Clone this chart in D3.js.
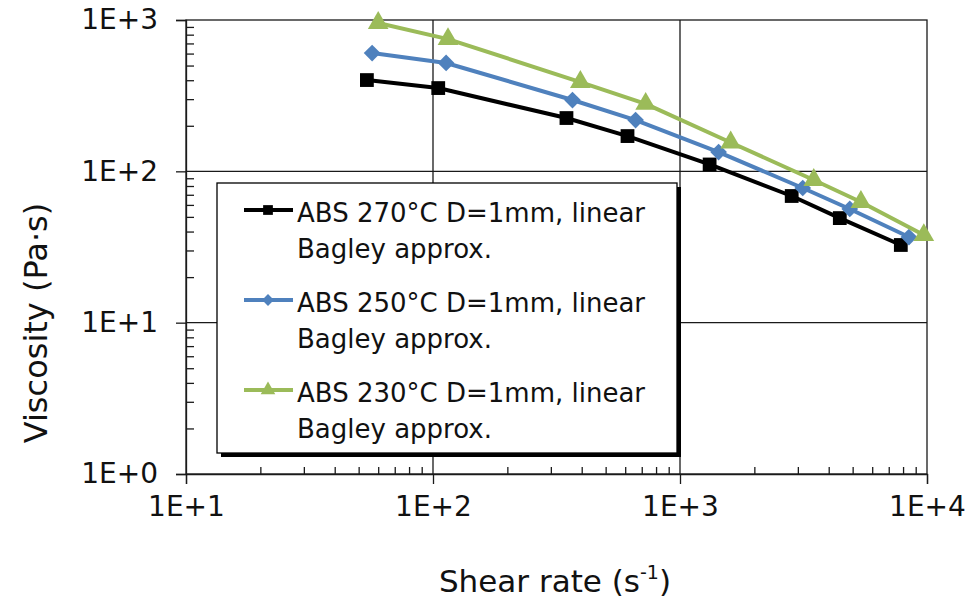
<!DOCTYPE html>
<html>
<head>
<meta charset="utf-8">
<script src="https://cdn.jsdelivr.net/npm/d3@7"></script>
<style>
  body { margin: 0; background: #fff; }
  svg { display: block; font-family: "DejaVu Sans", Verdana, sans-serif; }
</style>
</head>
<body>
<div id="chart"></div>
<script>
/* Series data: shear rate (1/s) and viscosity (Pa·s) */
const seriesNames = [
  "ABS 270°C D=1mm, linear",
  "ABS 250°C D=1mm, linear",
  "ABS 230°C D=1mm, linear"
];
const shear270 = [54, 105, 347, 613, 1318, 2833, 4436, 7834];
const visc270  = [401, 355, 225, 171, 111, 68.7, 49.1, 32.6];
const shear250 = [56.7, 113, 367, 661, 1433, 3140, 4868, 8450];
const visc250  = [605, 520, 296, 218, 134, 77.6, 56.4, 36.8];
const shear230 = [60, 115, 395, 726, 1604, 3480, 5400, 9710];
const visc230  = [955, 748, 389, 279, 155, 87.7, 62.7, 37.9];

const xTicks = [10, 100, 1000, 10000];
const yTicks = [1, 10, 100, 1000];
const tickLabels = ["1E+0", "1E+1", "1E+2", "1E+3", "1E+4"];

const width = 969, height = 603;
const margins = { top: 20, right: 42, bottom: 129, left: 186 };

const svg = d3.select("#chart")
  .append("svg")
  .attr("width", width)
  .attr("height", height);

/* Scales */
const x = d3.scaleLog()
  .domain([10, 10000])
  .range([margins.left, width - margins.right]);

const y = d3.scaleLog()
  .domain([1, 1000])
  .range([height - margins.bottom, margins.top]);

const label = v => tickLabels[Math.round(Math.log10(v))];

/* Minor tick values: 2..9 in each decade */
const minorX = [];
[10, 100, 1000].forEach(d => d3.range(2, 10).forEach(k => minorX.push(d * k)));
const minorY = [];
[1, 10, 100].forEach(d => d3.range(2, 10).forEach(k => minorY.push(d * k)));

/* Grid lines */
svg.append("g")
  .selectAll("line")
  .data(xTicks.slice(1, -1))
  .join("line")
    .attr("x1", d => x(d)).attr("x2", d => x(d))
    .attr("y1", y(1)).attr("y2", y(1000))
    .attr("stroke", "#1a1a1a").attr("stroke-width", 1.3);

svg.append("g")
  .selectAll("line")
  .data(yTicks.slice(1, -1))
  .join("line")
    .attr("x1", x(10)).attr("x2", x(10000))
    .attr("y1", d => y(d)).attr("y2", d => y(d))
    .attr("stroke", "#1a1a1a").attr("stroke-width", 1.3);

/* Plot frame */
svg.append("rect")
  .attr("x", x(10)).attr("y", y(1000))
  .attr("width", x(10000) - x(10))
  .attr("height", y(1) - y(1000))
  .attr("fill", "none")
  .attr("stroke", "#1a1a1a")
  .attr("stroke-width", 1.3);

/* X axis: major ticks outside, minor ticks inside */
svg.append("g")
  .attr("transform", `translate(0,${y(1)})`)
  .call(d3.axisBottom(x).tickValues(xTicks).tickFormat(label).tickSize(10).tickPadding(12));

svg.append("g")
  .attr("transform", `translate(0,${y(1)})`)
  .call(d3.axisBottom(x).tickValues(minorX).tickFormat("").tickSize(-7))
  .call(g => g.select(".domain").remove());

/* Y axis */
svg.append("g")
  .attr("transform", `translate(${x(10)},0)`)
  .call(d3.axisLeft(y).tickValues(yTicks).tickFormat(label).tickSize(10).tickPadding(18));

svg.append("g")
  .attr("transform", `translate(${x(10)},0)`)
  .call(d3.axisLeft(y).tickValues(minorY).tickFormat("").tickSize(-8))
  .call(g => g.select(".domain").remove());

svg.selectAll(".tick line").attr("stroke", "#1a1a1a").attr("stroke-width", 1.3);
svg.selectAll(".domain").attr("stroke", "#1a1a1a").attr("stroke-width", 1.3);
svg.selectAll(".tick text")
  .attr("font-size", "28px")
  .attr("font-family", "DejaVu Sans, sans-serif")
  .attr("fill", "#111");

/* Axis titles */
const xTitle = svg.append("text")
  .attr("x", 555)
  .attr("y", 592)
  .attr("text-anchor", "middle")
  .attr("font-size", "31px")
  .attr("fill", "#111");
xTitle.append("tspan").text("Shear rate (s");
xTitle.append("tspan").attr("font-size", "19px").attr("dy", -13).text("-1");
xTitle.append("tspan").attr("dy", 13).text(")");

svg.append("text")
  .attr("transform", "translate(47,323) rotate(-90)")
  .attr("text-anchor", "middle")
  .attr("font-size", "32px")
  .attr("fill", "#111")
  .text("Viscosity (Pa·s)");

/* Series (diamond = square turned 45 degrees) */
const series = [
  { name: seriesNames[0], xs: shear270, ys: visc270, color: "#000000", symbol: d3.symbolSquare, size: 190, rot: 0 },
  { name: seriesNames[1], xs: shear250, ys: visc250, color: "#4f81bd", symbol: d3.symbolSquare, size: 140, rot: 45 },
  { name: seriesNames[2], xs: shear230, ys: visc230, color: "#9bbb59", symbol: d3.symbolTriangle, size: 185, rot: 0 }
];

const line = d3.line()
  .x(d => x(d[0]))
  .y(d => y(d[1]));

series.forEach(s => {
  const pts = d3.zip(s.xs, s.ys);
  svg.append("path")
    .datum(pts)
    .attr("d", line)
    .attr("fill", "none")
    .attr("stroke", s.color)
    .attr("stroke-width", 4)
    .attr("stroke-linejoin", "round");

  svg.append("g")
    .selectAll("path")
    .data(pts)
    .join("path")
      .attr("transform", d => `translate(${x(d[0])},${y(d[1])}) rotate(${s.rot})`)
      .attr("d", d3.symbol().type(s.symbol).size(s.size))
      .attr("fill", s.color);
});

/* Legend */
const legend = svg.append("g").attr("transform", "translate(217,183)");
legend.append("rect")
  .attr("x", 4).attr("y", 4)
  .attr("width", 460).attr("height", 270)
  .attr("fill", "#000");
legend.append("rect")
  .attr("x", 0).attr("y", 0)
  .attr("width", 460).attr("height", 270)
  .attr("fill", "#fff")
  .attr("stroke", "#000")
  .attr("stroke-width", 1.3);

series.forEach((s, i) => {
  const g = legend.append("g").attr("transform", `translate(0,${27 + i * 90})`);
  g.append("line")
    .attr("x1", 27).attr("x2", 76)
    .attr("y1", 0).attr("y2", 0)
    .attr("stroke", s.color)
    .attr("stroke-width", 4);
  g.append("path")
    .attr("transform", `translate(51,0) rotate(${s.rot})`)
    .attr("d", d3.symbol().type(s.symbol).size(s.size * 0.5))
    .attr("fill", s.color);
  const t = g.append("text")
    .attr("x", 80)
    .attr("font-size", "26px")
    .attr("fill", "#111");
  t.append("tspan").attr("x", 80).attr("y", 12).text(s.name);
  t.append("tspan").attr("x", 80).attr("y", 48).text("Bagley approx.");
});
</script>
</body>
</html>
